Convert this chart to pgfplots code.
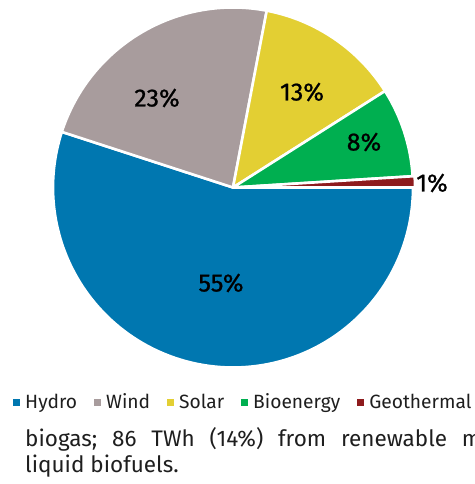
\documentclass[border=0pt]{standalone}
\usepackage{fontspec}
\setmainfont{Fira Sans}
\newfontfamily\labfont{Fira Sans}[FakeBold=0.8]
\usepackage{pgfplots}
\usepackage{pgfplotstable}
\pgfplotsset{compat=1.18}

\definecolor{hydro}{HTML}{0077B0}
\definecolor{wind}{HTML}{A89C9D}
\definecolor{solar}{HTML}{E3CF33}
\definecolor{bio}{HTML}{00AF50}
\definecolor{geo}{HTML}{8E1B1D}
\definecolor{txt}{HTML}{1E1E1E}

% share in %, slice colour, explode (px), label position (px, axis units)
\pgfplotstableread[col sep=comma]{
name,value,col,shift,lx,ly
Hydro,55,hydro,0,221,201
Wind,23,wind,0,157,386
Solar,13,solar,0,302,392
Bioenergy,8,bio,0,364,342
Geothermal,1,geo,2,432,301
}\piedata

\begin{document}
\begin{tikzpicture}
\useasboundingbox (0,0) rectangle (474pt,484pt);
\begin{axis}[
  scale only axis, width=474pt, height=484pt,
  xmin=0, xmax=474, ymin=0, ymax=484,
  hide axis, clip=false,
  legend columns=-1,
  legend image code/.code={\fill[#1] (0pt,-2.8pt) rectangle (5.6pt,2.8pt);},
  legend style={at={(axis cs:10,82)}, anchor=west, draw=none, fill=none,
    font=\fontsize{19.2}{21}\selectfont, text=txt,
    nodes={inner sep=0pt},
    /tikz/every odd column/.append style={column sep=6pt},
    /tikz/every even column/.append style={column sep=17pt}},
]
\pgfplotsextra{
  \gdef\cumangle{0}
  \pgfplotsforeachungrouped \i in {0,...,4} {
    \pgfplotstablegetelem{\i}{value}\of\piedata \let\sliceval\pgfplotsretval
    \pgfplotstablegetelem{\i}{col}\of\piedata \let\slicecol\pgfplotsretval
    \pgfplotstablegetelem{\i}{shift}\of\piedata \let\sliceshift\pgfplotsretval
    \pgfplotstablegetelem{\i}{lx}\of\piedata \let\labx\pgfplotsretval
    \pgfplotstablegetelem{\i}{ly}\of\piedata \let\laby\pgfplotsretval
    \pgfmathsetmacro\aend{\cumangle-3.6*\sliceval}
    \pgfmathsetmacro\amid{(\cumangle+\aend)/2}
    \fill[fill=\slicecol, draw=white, line width=2.6pt, line join=round]
      ([shift={(\amid:\sliceshift pt)}]axis cs:233,296.5) -- ++(\cumangle:180pt)
      arc[start angle=\cumangle, end angle=\aend, radius=180pt] -- cycle;
    \node[text=black, font=\labfont\fontsize{25}{28}\selectfont]
      at (axis cs:\labx,\laby) {\sliceval\%};
    \xdef\cumangle{\aend}
  }
}
\addlegendimage{hydro}\addlegendentry{Hydro}
\addlegendimage{wind}\addlegendentry{Wind}
\addlegendimage{solar}\addlegendentry{Solar}
\addlegendimage{bio}\addlegendentry{Bioenergy}
\addlegendimage{geo}\addlegendentry{Geothermal}

% running text of the page, cut at the right edge
\node[anchor=base west, inner sep=0pt, text=txt, font=\fontsize{22.5}{26}\selectfont]
  at (axis cs:25,37) {\makebox[456pt][s]{biogas;\hfill 86\hfill TWh\hfill (14\%)\hfill from\hfill renewable\hfill m}};
\node[anchor=base west, inner sep=0pt, text=txt, font=\fontsize{22.5}{26}\selectfont]
  at (axis cs:25,11) {liquid biofuels.};
\end{axis}
\end{tikzpicture}
\end{document}
